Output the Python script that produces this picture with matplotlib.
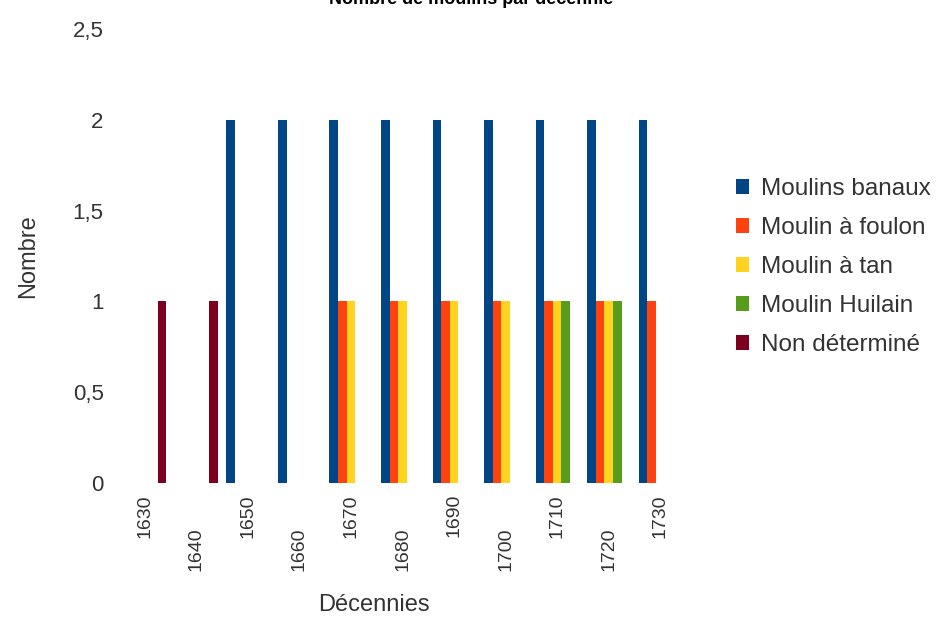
import matplotlib.pyplot as plt
import numpy as np
from matplotlib.patches import Patch
from matplotlib.transforms import ScaledTranslation

plt.rcParams['font.family'] = ['Liberation Sans', 'DejaVu Sans']

decennies = ['1630', '1640', '1650', '1660', '1670', '1680', '1690', '1700', '1710', '1720', '1730']
series_names = ['Moulins banaux', 'Moulin à foulon', 'Moulin à tan', 'Moulin Huilain', 'Non déterminé']
moulins_banaux = [0, 0, 2, 2, 2, 2, 2, 2, 2, 2, 2]
moulin_foulon = [0, 0, 0, 0, 1, 1, 1, 1, 1, 1, 1]
moulin_tan = [0, 0, 0, 0, 1, 1, 1, 1, 1, 1, 0]
moulin_huilain = [0, 0, 0, 0, 0, 0, 0, 0, 1, 1, 0]
non_determine = [1, 1, 0, 0, 0, 0, 0, 0, 0, 0, 0]
colors = ['#004586', '#ff420e', '#ffd320', '#579d1c', '#7e0021']
yticks = [0, 0.5, 1, 1.5, 2, 2.5]
ytick_labels = ['0', '0,5', '1', '1,5', '2', '2,5']

text_col = '#333333'
fig = plt.figure(figsize=(9.43, 6.19), dpi=100)
ax = fig.add_axes([0.1262, 0.2197, 0.6013, 0.7335])

x = np.arange(len(decennies))
w = 1 / 6
all_series = [moulins_banaux, moulin_foulon, moulin_tan, moulin_huilain, non_determine]
for i, (vals, col) in enumerate(zip(all_series, colors)):
    ax.bar(x + (i - 2) * w, vals, width=w, color=col, linewidth=0)

ax.set_xlim(-0.5, len(decennies) - 0.5)
ax.set_ylim(0, 2.5)
ax.set_yticks(yticks)
ax.set_yticklabels(ytick_labels)
ax.set_xticks(x)
ax.set_xticklabels(decennies, rotation=90, va='top', ha='center')
ax.tick_params(axis='both', length=0, colors=text_col)
ax.tick_params(axis='y', labelsize=16, pad=11)
ax.tick_params(axis='x', labelsize=14, pad=8)

# odd labels go on a second, lower row
for k, lbl in enumerate(ax.get_xticklabels()):
    if k % 2 == 1:
        lbl.set_transform(lbl.get_transform() + ScaledTranslation(0, -0.33, fig.dpi_scale_trans))

for s in ax.spines.values():
    s.set_visible(False)

ax.set_xlabel('Décennies', fontsize=17, color=text_col)
ax.xaxis.set_label_coords(0.45, -0.245)
ax.set_ylabel('Nombre', fontsize=17, color=text_col)
ax.yaxis.set_label_coords(-0.14, 0.5)

handles = [Patch(facecolor=c, edgecolor='none', label=n) for c, n in zip(colors, series_names)]
fig.legend(handles=handles, loc='center left', bbox_to_anchor=(0.770, 1 - 267 / 619),
           frameon=False, fontsize=17.5, handlelength=0.55, handleheight=0.55,
           handletextpad=0.5, labelspacing=0.7, labelcolor=text_col, borderaxespad=0)

fig.text(0.5, 1.0, 'Nombre de moulins par décennie', ha='center', va='center',
         fontsize=13, fontweight='bold', color='black')

fig.savefig('out.png', dpi=100, facecolor='white')
